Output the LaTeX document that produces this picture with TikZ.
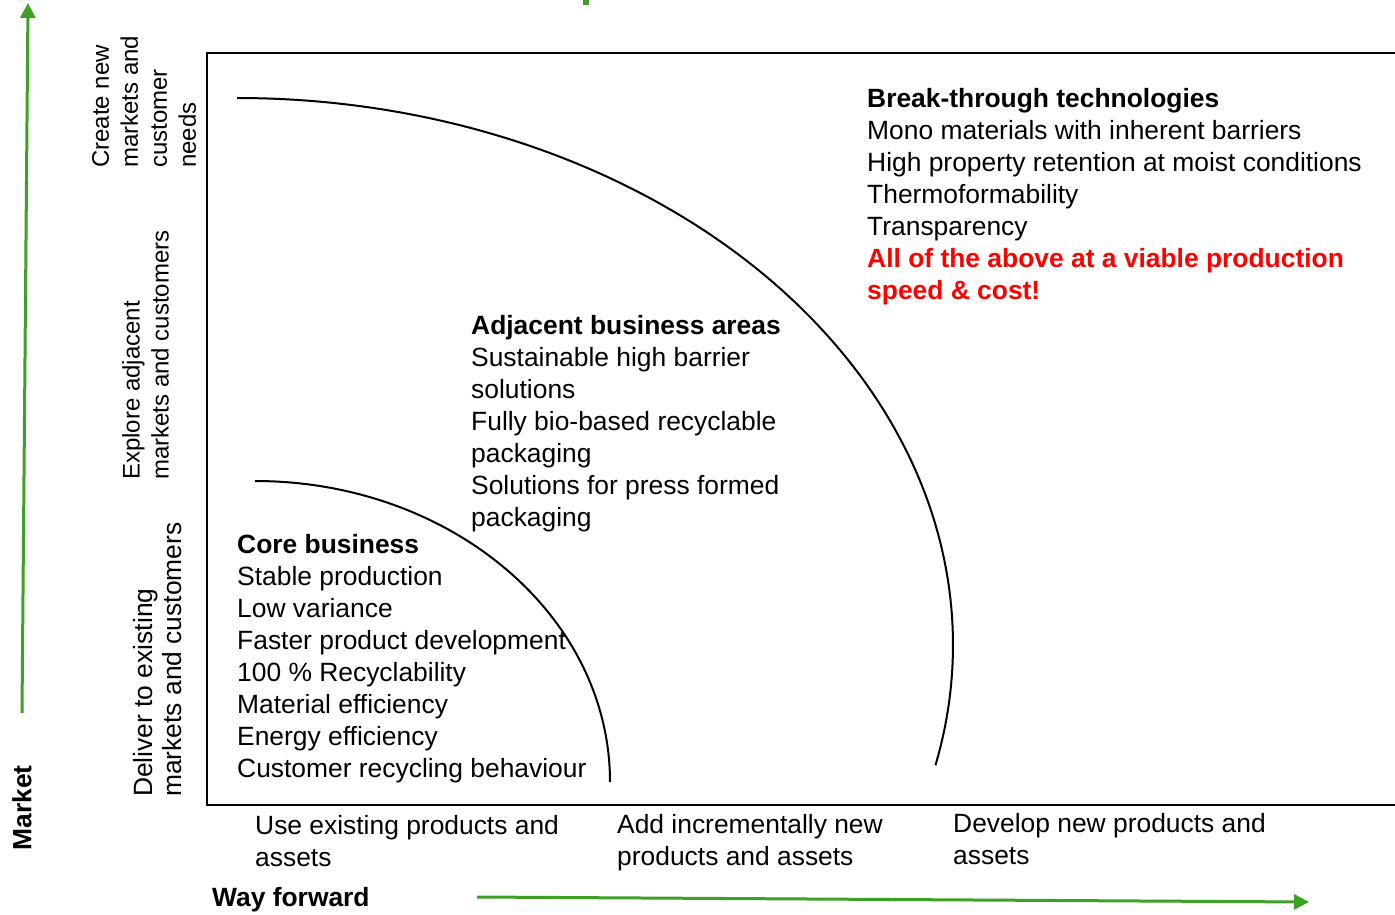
\documentclass[tikz,border=0pt]{standalone}
\usepackage{fontspec}
\setmainfont{Liberation Sans}
\usepackage{xcolor}
\usetikzlibrary{arrows.meta}
\definecolor{fwdgreen}{RGB}{62,160,38}
\definecolor{hotred}{RGB}{255,0,0}

\begin{document}
\begin{tikzpicture}[x=1pt, y=1pt,
  txt/.style={font=\fontsize{26.4}{32}\selectfont, inner sep=0pt, align=left, anchor=north west},
  sidetxt/.style={txt, rotate=90, font=\fontsize{24}{29}\selectfont},
  axisarrow/.style={draw=fwdgreen, line width=3pt, -{Triangle[length=15pt, width=15pt]}}]
\useasboundingbox (0,0) rectangle (1395,-914);
%\fill[white] (0,0) rectangle (1395,-914);
\fill[fwdgreen] (583,0) rectangle (589,-5);
% frame
\draw [line width=2pt] (1395,-53) -- (207,-53) -- (207,-805) -- (1395,-805);
% curves
\draw [line width=2pt] (255,-481) arc [start angle=90, end angle=0, x radius=355pt, y radius=301pt];
\draw [line width=2pt] (237,-98) arc [start angle=90, end angle=-12.7, x radius=716pt, y radius=547pt];
% axes
\coordinate (mkt0) at (22,-713);
\coordinate (mkt1) at (28,-3);
\coordinate (fwd0) at (477,-897);
\coordinate (fwd1) at (1309,-902);
\draw [axisarrow] (mkt0) -- (mkt1);
\draw [axisarrow] (fwd0) -- (fwd1);
\draw (22,-808) node [txt, anchor=center, rotate=90, font=\fontsize{26.4}{32}\selectfont\bfseries] (market) {Market};
\draw (212,-900) node [txt, anchor=west, font=\fontsize{26.4}{32}\selectfont\bfseries] (wayfwd) {Way forward};
% market levels
\draw (92,-168) node [sidetxt] (createnew) {Create new\\markets and\\customer\\needs};
\draw (122,-480) node [sidetxt] (explore) {Explore adjacent\\markets and customers};
\draw (133,-797) node [sidetxt, font=\fontsize{26.4}{29}\selectfont] (deliver) {Deliver to existing\\markets and customers};
% way forward levels
\draw (255,-815) node [txt] (useexist) {Use existing products and\\assets};
\draw (617,-814) node [txt] (addincr) {Add incrementally new\\products and assets};
\draw (953,-813) node [txt] (develop) {Develop new products and\\assets};
% blocks
\draw (237,-534) node [txt] (core) {\textbf{Core business}\\Stable production\\Low variance\\Faster product development\\100 \% Recyclability\\Material efficiency\\Energy efficiency\\Customer recycling behaviour};
\draw (471,-315) node [txt] (adjacent) {\textbf{Adjacent business areas}\\Sustainable high barrier\\solutions\\Fully bio-based recyclable\\packaging\\Solutions for press formed\\packaging};
\draw (867,-88) node [txt] (breakthru) {\textbf{Break-through technologies}\\Mono materials with inherent barriers\\High property retention at moist conditions\\Thermoformability\\Transparency\\\textcolor{hotred}{\textbf{All of the above at a viable production}}\\\textcolor{hotred}{\textbf{speed \& cost!}}};
\end{tikzpicture}
\end{document}
